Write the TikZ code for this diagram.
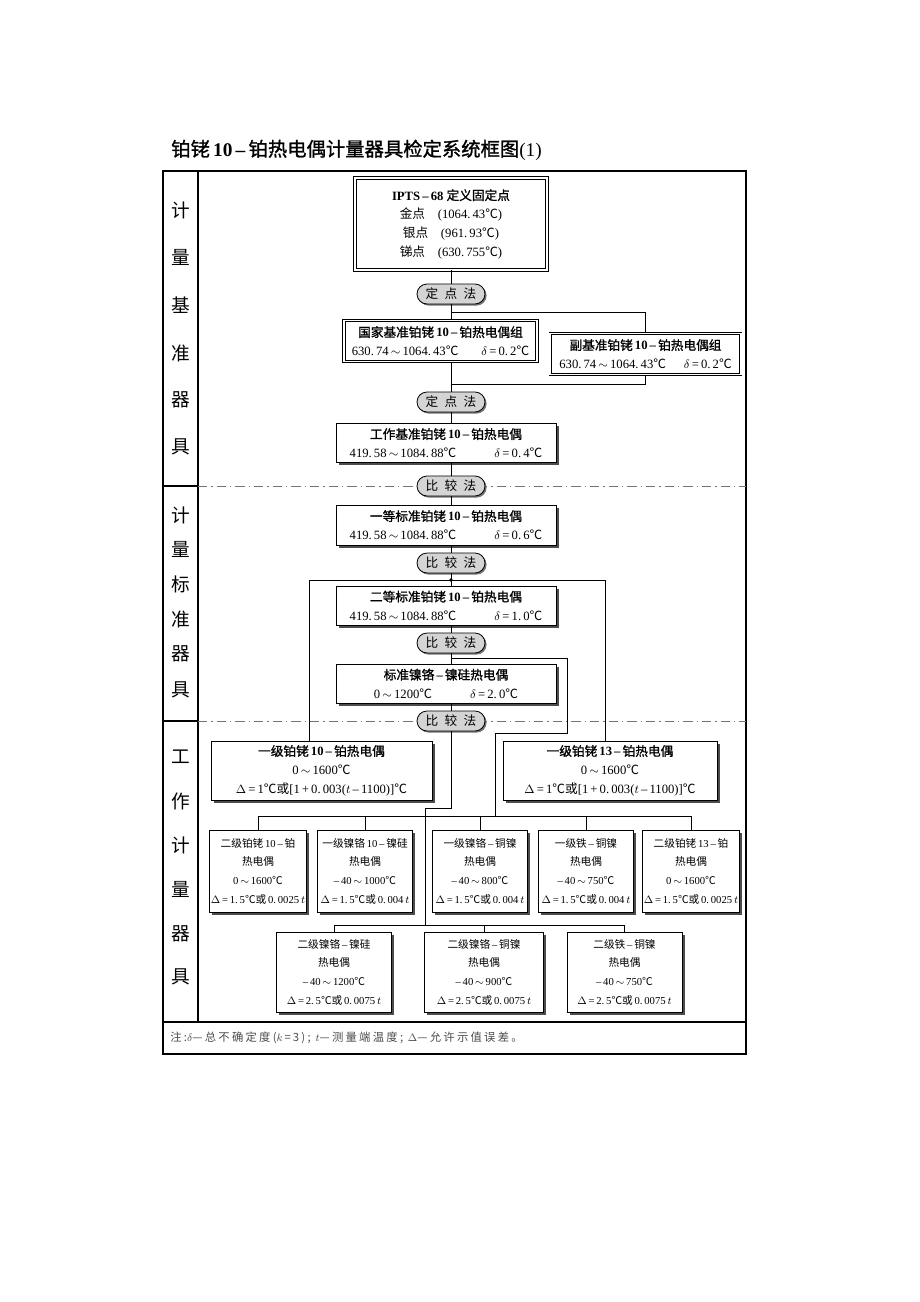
\documentclass[tikz,border=0pt]{standalone}
\usepackage{fontspec}
\setmainfont{Liberation Serif}
\newfontfamily\cj{Noto Sans CJK SC}
\newfontfamily\cjb{Noto Sans CJK SC}[FakeBold=1.2]
\newfontfamily\cjn{Noto Sans CJK SC}[LetterSpace=20]
\usepackage{tikz}
\usetikzlibrary{shadows,calc}

\newcommand\zh[1]{{\cj #1}}
\newcommand\zb[1]{{\cjb #1}}
\newcommand\dc{{\cj ℃}}
\newcommand\rng{\,$\sim$\,}

\begin{document}
\begin{tikzpicture}[x=0.75pt,y=0.75pt,yscale=-1,xscale=1,
    box/.style={draw, line width=0.6pt, fill=white, inner sep=1pt, align=center,
        font=\fontsize{9.5}{14}\selectfont,
        drop shadow={shadow xshift=2.2pt, shadow yshift=-2.2pt, fill=black!70, opacity=1}},
    dbox/.style={draw, double, double distance=1.3pt, line width=0.5pt, fill=white,
        inner sep=1pt, align=center, font=\fontsize{9.5}{14}\selectfont},
    sbox/.style={box, font=\fontsize{8}{14}\selectfont},
    pill/.style={draw, line width=0.6pt, rounded corners=7.5pt, fill=black!17,
        minimum width=51pt, minimum height=15pt, inner sep=0pt,
        font=\cj\fontsize{9.5}{10}\selectfont,
        drop shadow={shadow xshift=1.2pt, shadow yshift=-1.2pt, fill=black!55, opacity=1}},
    sidelab/.style={font=\cj\fontsize{14}{16}\selectfont},
    frameline/.style={line width=1.1pt},
    sepline/.style={line width=0.8pt},
    dashsep/.style={black!55, line width=0.6pt, dash pattern=on 7pt off 3pt on 1pt off 3pt},
    link/.style={line width=0.6pt}]
\path[fill=white] (0,0) rectangle (920,1302);
\useasboundingbox (0,0) rectangle (920,1302);

% Title
\node[anchor=west, inner sep=0pt, font=\fontsize{14.5}{16}\selectfont] (title) at (171,150)
    {\zb{铂铑}\,{\bfseries 10\,–\,}\zb{铂热电偶计量器具检定系统框图}(1)};

% Frame
\draw[frameline] (163,171) rectangle (746,1054);
\draw[sepline] (198,171) -- (198,1022);
\draw[sepline] (163,1022) -- (746,1022);
\draw[sepline] (163,486) -- (198,486);
\draw[sepline] (163,721) -- (198,721);
\draw[dashsep] (198,486) -- (746,486);
\draw[dashsep] (198,721) -- (746,721);

% Side labels
\foreach \t/\y [count=\i] in {计/210,量/257,基/305,准/353,器/400,具/447}
    \node[sidelab] (sa\i) at (180.5,\y) {\t};
\foreach \t/\y [count=\i] in {计/515,量/549,标/584,准/619,器/654,具/690}
    \node[sidelab] (sb\i) at (180.5,\y) {\t};
\foreach \t/\y [count=\i] in {工/757,作/801,计/845,量/889,器/934,具/977}
    \node[sidelab] (sc\i) at (180.5,\y) {\t};

% Primary standards
\node[dbox, minimum width=144pt, minimum height=69pt] (ipts) at (451,224)
    {{\bfseries IPTS\,–\,68 }\zb{定义固定点}\\
     \zh{金点}\quad(1064.\,43\dc)\\
     \zh{银点}\quad(961.\,93\dc)\\
     \zh{锑点}\quad(630.\,755\dc)};
\node[pill] (p1) at (451,294) {定\enspace 点\enspace 法};
\node[dbox, minimum width=144.75pt, minimum height=30.75pt] (natl) at (440.5,341)
    {\zb{国家基准铂铑}\,{\bfseries 10\,–\,}\zb{铂热电偶组}\\
     630.\,74\rng1064.\,43\dc\hspace{1.8em}$\delta$\,=\,0.\,2\dc};
\node[dbox, minimum width=143pt, minimum height=30.75pt] (sub) at (645.5,354)
    {\zb{副基准铂铑}\,{\bfseries 10\,–\,}\zb{铂热电偶组}\\
     630.\,74\rng1064.\,43\dc\hspace{1.4em}$\delta$\,=\,0.\,2\dc};
\node[pill] (p2) at (451,402) {定\enspace 点\enspace 法};
\node[box, minimum width=165pt, minimum height=29.25pt] (work) at (446,443)
    {\zb{工作基准铂铑}\,{\bfseries 10\,–\,}\zb{铂热电偶}\\
     419.\,58\rng1084.\,88\dc\hspace{3em}$\delta$\,=\,0.\,4\dc};
\node[pill] (p3) at (451,486) {比\enspace 较\enspace 法};

% Standards
\node[box, minimum width=165pt, minimum height=30pt] (first) at (446,525)
    {\zb{一等标准铂铑}\,{\bfseries 10\,–\,}\zb{铂热电偶}\\
     419.\,58\rng1084.\,88\dc\hspace{3em}$\delta$\,=\,0.\,6\dc};
\node[pill] (p4) at (451,563) {比\enspace 较\enspace 法};
\node[box, minimum width=165pt, minimum height=29.25pt] (second) at (446,605.5)
    {\zb{二等标准铂铑}\,{\bfseries 10\,–\,}\zb{铂热电偶}\\
     419.\,58\rng1084.\,88\dc\hspace{3em}$\delta$\,=\,1.\,0\dc};
\node[pill] (p5) at (451,643) {比\enspace 较\enspace 法};
\node[box, minimum width=165pt, minimum height=29.25pt] (nick) at (446,683.5)
    {\zb{标准镍铬}\,{\bfseries –\,}\zb{镍硅热电偶}\\
     0\rng1200\dc\hspace{3em}$\delta$\,=\,2.\,0\dc};
\node[pill] (p6) at (451,721) {比\enspace 较\enspace 法};

% Working instruments
\node[box, minimum width=165.75pt, minimum height=44.25pt] (l10) at (321.5,770.5)
    {\zb{一级铂铑}\,{\bfseries 10\,–\,}\zb{铂热电偶}\\
     0\rng1600\dc\\
     $\Delta$\,=\,1\dc\zh{或}[1\,+\,0.\,003($t$\,–\,1100)]\dc};
\node[box, minimum width=160.5pt, minimum height=44.25pt] (l13) at (610,770.5)
    {\zb{一级铂铑}\,{\bfseries 13\,–\,}\zb{铂热电偶}\\
     0\rng1600\dc\\
     $\Delta$\,=\,1\dc\zh{或}[1\,+\,0.\,003($t$\,–\,1100)]\dc};

\node[sbox, minimum width=71.25pt, minimum height=61.5pt] (B1) at (258,871)
    {\zh{二级铂铑}\,10\,–\,\zh{铂}\\\zh{热电偶}\\0\rng1600\dc\\
     $\Delta$\,=\,1.\,5\dc\zh{或}\,0.\,0025\,$t$};
\node[sbox, minimum width=71.25pt, minimum height=61.5pt] (B2) at (365,871)
    {\zh{一级镍铬}\,10\,–\,\zh{镍硅}\\\zh{热电偶}\\–\,40\rng1000\dc\\
     $\Delta$\,=\,1.\,5\dc\zh{或}\,0.\,004\,$t$};
\node[sbox, minimum width=71.25pt, minimum height=61.5pt] (B3) at (480,871)
    {\zh{一级镍铬}\,–\,\zh{铜镍}\\\zh{热电偶}\\–\,40\rng800\dc\\
     $\Delta$\,=\,1.\,5\dc\zh{或}\,0.\,004\,$t$};
\node[sbox, minimum width=71.25pt, minimum height=61.5pt] (B4) at (586,871)
    {\zh{一级铁}\,–\,\zh{铜镍}\\\zh{热电偶}\\–\,40\rng750\dc\\
     $\Delta$\,=\,1.\,5\dc\zh{或}\,0.\,004\,$t$};
\node[sbox, minimum width=71.25pt, minimum height=61.5pt] (B5) at (691,871)
    {\zh{二级铂铑}\,13\,–\,\zh{铂}\\\zh{热电偶}\\0\rng1600\dc\\
     $\Delta$\,=\,1.\,5\dc\zh{或}\,0.\,0025\,$t$};

\node[sbox, minimum width=86.25pt, minimum height=60pt] (C1) at (334,972)
    {\zh{二级镍铬}\,–\,\zh{镍硅}\\\zh{热电偶}\\–\,40\rng1200\dc\\
     $\Delta$\,=\,2.\,5\dc\zh{或}\,0.\,0075\,$t$};
\node[sbox, minimum width=89.25pt, minimum height=60pt] (C2) at (484,972)
    {\zh{二级镍铬}\,–\,\zh{铜镍}\\\zh{热电偶}\\–\,40\rng900\dc\\
     $\Delta$\,=\,2.\,5\dc\zh{或}\,0.\,0075\,$t$};
\node[sbox, minimum width=86.25pt, minimum height=60pt] (C3) at (624.5,972)
    {\zh{二级铁}\,–\,\zh{铜镍}\\\zh{热电偶}\\–\,40\rng750\dc\\
     $\Delta$\,=\,2.\,5\dc\zh{或}\,0.\,0075\,$t$};

% Note
\node[anchor=west, inner sep=0pt, text=black!70, font=\cjn\fontsize{8.5}{10}\selectfont] (note) at (170,1038)
    {注:$\delta$—总不确定度($k$\,=\,3);\ $t$—测量端温度;\ $\Delta$—允许示值误差。};

% Junctions
\coordinate (j1) at (451,312);
\coordinate (j2) at (451,384);
\coordinate (bl) at (309,580);
\coordinate (br) at (605,580);
\coordinate (j4) at (451,580);
\coordinate (j5) at (451,658);
\coordinate (k1) at (567,733);
\coordinate (k2) at (495,733);
\coordinate (k3) at (495,816);
\coordinate (m1) at (451,808);
\coordinate (m2) at (425,808);
\coordinate (m3) at (425,925);

%Straight Lines
\draw[link] (ipts.south -| p1) -- (p1.north);
\draw[link] (p1.south) -- (p1.south |- natl.north);
\draw[link] (j1) -| (sub.north);
\draw[link] (sub.south) |- (j2);
\draw[link] (p1.south |- natl.south) -- (p2.north);
\draw[link] (p2.south) -- (p2.south |- work.north);
\draw[link] (p2.south |- work.south) -- (p3.north);
\draw[link] (p3.south) -- (p3.south |- first.north);
\draw[link] (p3.south |- first.south) -- (p4.north);
\draw[link] (p4.south) -- (p4.south |- second.north);
\draw[link] (bl) -- (br);
\draw[link] (bl) -- (bl |- l10.north);
\draw[link] (br) -- (br |- l13.north);
\fill (j4) circle (1.8);
\draw[link] (p4.south |- second.south) -- (p5.north);
\draw[link] (p5.south) -- (p5.south |- nick.north);
\draw[link] (j5) -| (k1) -- (k2) -- (k3);
\draw[link] (p5.south |- nick.south) -- (p6.north);
\draw[link] (p6.south) -- (m1) -- (m2) -- (m3);
\draw[link] (B1.north |- k3) -- (B5.north |- k3);
\foreach \b in {B1,B2,B3,B4,B5}
    \draw[link] (\b.north |- k3) -- (\b.north);
\draw[link] (C1.north |- m3) -- (C3.north |- m3);
\foreach \c in {C1,C2,C3}
    \draw[link] (\c.north |- m3) -- (\c.north);
\end{tikzpicture}
\end{document}
